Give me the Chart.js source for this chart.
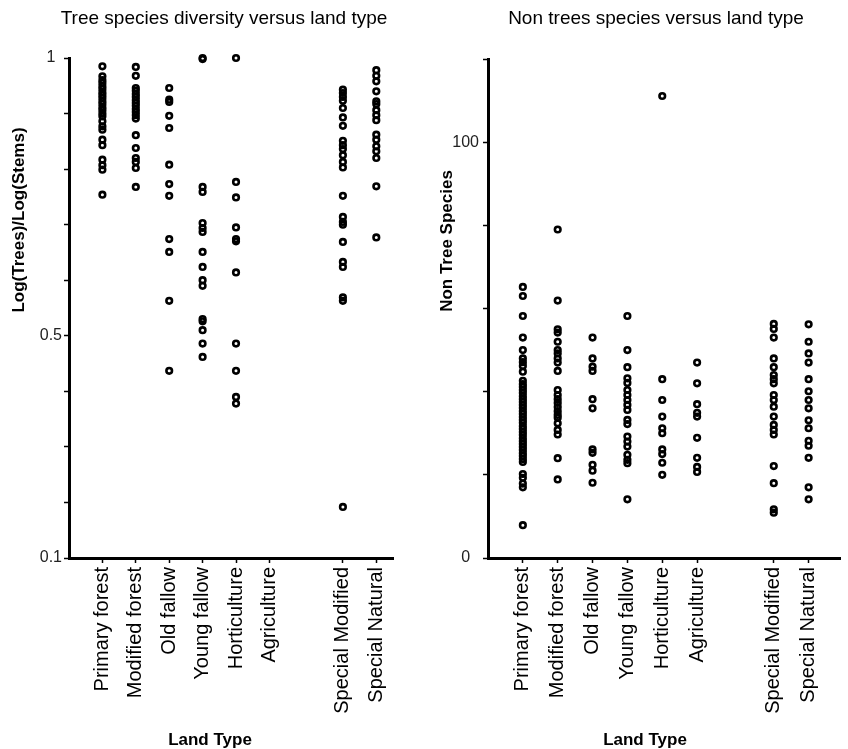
<!DOCTYPE html>
<html>
<head>
<meta charset="utf-8">
<script src="https://cdn.jsdelivr.net/npm/chart.js@4.4.1/dist/chart.umd.min.js"></script>
<style>
  html, body { margin: 0; padding: 0; background: #fff; }
  #wrap { position: relative; width: 848px; height: 749px; }
  #wrap canvas { position: absolute; top: 0; }
  #tree-chart { left: 0; }
  #nontree-chart { left: 424px; }
</style>
</head>
<body>
<div id="wrap">
  <canvas id="tree-chart" width="424" height="749"></canvas>
  <canvas id="nontree-chart" width="424" height="749"></canvas>
</div>
<script>
// land types and where they sit on the x axis (gap before the special sites)
const categories = ["Primary forest", "Modified forest", "Old fallow", "Young fallow",
  "Horticulture", "Agriculture", "Special Modified", "Special Natural"];
const catPos = [1, 2, 3, 4, 5, 6, 8.2, 9.2];

// left panel: Log(Trees)/Log(Stems)
const treePrimary = [0.985, 0.967, 0.960, 0.955, 0.949, 0.944, 0.938, 0.933, 0.928, 0.922,
  0.917, 0.911, 0.906, 0.900, 0.895, 0.886, 0.877, 0.871, 0.853, 0.843, 0.817, 0.807, 0.799, 0.754];
const treeModified = [0.984, 0.968, 0.946, 0.941, 0.935, 0.930, 0.924, 0.919, 0.914, 0.908,
  0.903, 0.897, 0.891, 0.861, 0.838, 0.820, 0.813, 0.802, 0.768];
const treeOldFallow = [0.946, 0.925, 0.921, 0.896, 0.874, 0.808, 0.773, 0.752, 0.674, 0.651, 0.563, 0.437];
const treeYoungFallow = [1.0, 0.998, 0.768, 0.759, 0.703, 0.694, 0.687, 0.651, 0.624, 0.600,
  0.590, 0.530, 0.526, 0.510, 0.486, 0.462];
const treeHorticulture = [1.0, 0.777, 0.749, 0.695, 0.674, 0.670, 0.614, 0.486, 0.437, 0.390, 0.378];
const treeAgriculture = [];
const treeSpecialModified = [0.943, 0.937, 0.930, 0.923, 0.910, 0.893, 0.878, 0.851, 0.843, 0.836,
  0.825, 0.813, 0.803, 0.752, 0.714, 0.705, 0.700, 0.669, 0.633, 0.624, 0.569, 0.563, 0.192];
const treeSpecialNatural = [0.978, 0.968, 0.958, 0.940, 0.922, 0.917, 0.906, 0.897, 0.888, 0.862,
  0.853, 0.841, 0.832, 0.820, 0.769, 0.677];

// right panel: number of non tree species
const nonPrimary = [65.2, 63.0, 58.2, 53.0, 50.0, 48.0, 47.1, 46.2, 44.8,
  42.6, 41.8, 41.1, 40.4, 39.7, 38.9, 38.2, 37.5, 36.8, 36.1, 35.3, 34.6, 33.9, 33.2,
  32.5, 31.7, 31.0, 30.3, 29.6, 28.8, 28.1, 27.4, 26.7, 26.0, 25.2, 24.5, 23.8, 23.1,
  20.2, 19.3, 17.9, 17.0, 7.9];
const nonModified = [79.0, 61.9, 55.0, 54.2, 52.0, 50.0, 49.2, 48.0, 47.0, 45.0, 40.4, 39.2,
  38.2, 37.3, 36.3, 35.3, 34.4, 33.7, 32.4, 30.8, 29.7, 24.0, 18.9];
const nonOldFallow = [53.0, 48.0, 46.0, 45.0, 38.2, 36.0, 26.1, 25.3, 22.4, 21.0, 18.1];
const nonYoungFallow = [58.2, 50.0, 45.9, 43.2, 42.1, 40.4, 39.2, 38.0, 36.8, 35.6, 33.2, 32.2,
  29.2, 28.0, 26.8, 24.8, 23.6, 22.8, 14.1];
const nonHorticulture = [111.1, 43.0, 38.0, 34.0, 31.2, 30.0, 26.1, 25.0, 22.9, 20.0];
const nonAgriculture = [47.0, 42.0, 37.0, 34.9, 34.0, 28.9, 24.1, 21.9, 20.7];
const nonSpecialModified = [56.3, 55.1, 53.0, 48.0, 45.9, 44.0, 43.0, 42.0, 39.2, 38.0, 36.4,
  34.0, 32.0, 30.8, 29.7, 22.1, 18.0, 11.7, 10.9];
const nonSpecialNatural = [56.2, 52.0, 49.2, 47.0, 43.0, 40.1, 38.0, 36.0, 33.1, 31.2, 28.2,
  27.0, 24.1, 17.0, 14.1];

const treeLabels = ["1", "0.5", "0.1"];
const nonTreeLabels = ["0", "100"];

const FONT = "Arial, 'Liberation Sans', sans-serif";

// titles drawn by hand so they can sit off-centre like the original
const panelText = {
  id: "panelText",
  afterDraw(chart, args, opts) {
    const ctx = chart.ctx;
    ctx.save();
    ctx.fillStyle = "#000";
    ctx.textAlign = "center";
    ctx.textBaseline = "middle";
    ctx.font = "19px " + FONT;
    ctx.fillText(opts.title, opts.titleX, opts.titleY);
    ctx.font = "bold 17px " + FONT;
    ctx.fillText(opts.xTitle, opts.xTitleX, opts.xTitleY);
    ctx.translate(opts.yTitleX, opts.yTitleY);
    ctx.rotate(-Math.PI / 2);
    ctx.fillText(opts.yTitle, 0, 0);
    ctx.restore();
  }
};

function toPoints(groups) {
  const pts = [];
  groups.forEach((vals, i) => {
    vals.forEach((v) => pts.push({ x: catPos[i], y: v }));
  });
  return pts;
}

function makeChart(id, cfg) {
  const ctx = document.getElementById(id).getContext("2d");
  return new Chart(ctx, {
    type: "scatter",
    data: {
      datasets: [{
        data: toPoints(cfg.groups),
        pointStyle: "circle",
        pointRadius: 2.8,
        pointBorderWidth: 2.6,
        borderColor: "#000",
        backgroundColor: "rgba(0,0,0,0)",
        clip: false
      }]
    },
    options: {
      responsive: false,
      animation: false,
      layout: { padding: cfg.padding },
      plugins: {
        legend: { display: false },
        tooltip: { enabled: false },
        panelText: cfg.text
      },
      scales: {
        x: {
          type: "linear",
          min: 0,
          max: cfg.xMax,
          afterBuildTicks: (scale) => {
            scale.ticks = catPos.map((v) => ({ value: v }));
          },
          afterFit: (scale) => { scale.height = 191; },
          ticks: {
            autoSkip: false,
            minRotation: 90,
            maxRotation: 90,
            padding: 4,
            color: "#000",
            font: { family: FONT, size: 20 },
            callback: (v, i) => categories[i]
          },
          grid: { drawOnChartArea: false, tickLength: 5, tickWidth: 1.5, tickColor: "#000" },
          border: { display: true, width: 3, color: "#000" }
        },
        y: {
          min: cfg.yMin,
          max: cfg.yMax,
          afterFit: (scale) => { scale.width = cfg.yWidth; },
          ticks: {
            stepSize: cfg.yStep,
            crossAlign: "center",
            padding: cfg.yPad,
            color: "#222",
            font: { family: FONT, size: 16 },
            callback: (v) => {
              const s = String(Math.round(v * 1000) / 1000);
              return cfg.yLabels.includes(s) ? s : "";
            }
          },
          grid: { drawOnChartArea: false, tickLength: 5, tickWidth: 1.5, tickColor: "#000" },
          border: { display: true, width: 3, color: "#000" }
        }
      }
    },
    plugins: [panelText]
  });
}

makeChart("tree-chart", {
  groups: [treePrimary, treeModified, treeOldFallow, treeYoungFallow, treeHorticulture,
    treeAgriculture, treeSpecialModified, treeSpecialNatural],
  xMax: 9.7,
  yMin: 0.1,
  yMax: 1,
  yStep: 0.1,
  yLabels: treeLabels,
  yWidth: 69,
  yPad: 2,
  padding: { top: 58, right: 31, bottom: 0, left: 0 },
  text: {
    title: "Tree species diversity versus land type",
    titleX: 224, titleY: 19,
    xTitle: "Land Type",
    xTitleX: 210, xTitleY: 740,
    yTitle: "Log(Trees)/Log(Stems)",
    yTitleX: 19, yTitleY: 220
  }
});

makeChart("nontree-chart", {
  groups: [nonPrimary, nonModified, nonOldFallow, nonYoungFallow, nonHorticulture,
    nonAgriculture, nonSpecialModified, nonSpecialNatural],
  xMax: 10.1,
  yMin: 0,
  yMax: 120,
  yStep: 20,
  yLabels: nonTreeLabels,
  yWidth: 64,
  yPad: 4,
  padding: { top: 59, right: 8, bottom: 0, left: 0 },
  text: {
    title: "Non trees species versus land type",
    titleX: 232, titleY: 19,
    xTitle: "Land Type",
    xTitleX: 221, xTitleY: 740,
    yTitle: "Non Tree Species",
    yTitleX: 23, yTitleY: 241
  }
});
</script>
</body>
</html>
